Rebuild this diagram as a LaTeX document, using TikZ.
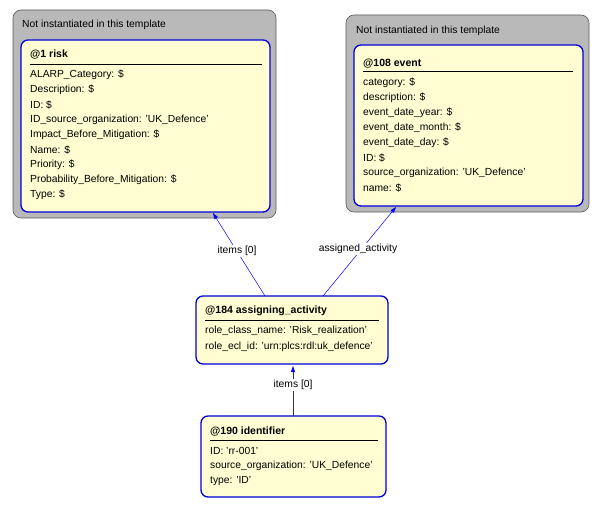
\documentclass[tikz,border=0pt]{standalone}
\usepackage{fontspec}
\setmainfont{Liberation Sans}
\usetikzlibrary{arrows.meta}
\begin{document}
\begin{tikzpicture}[x=1pt,y=-1pt,font=\fontsize{10.3}{12}\selectfont,
  grey/.style={draw=gray!70!black,fill=gray!55,rounded corners=8pt,line width=0.6pt},
  ent/.style={draw=blue!85!black,fill=yellow!18,rounded corners=7pt,line width=1.3pt},
  txt/.style={anchor=west,inner sep=0pt},
  ttl/.style={anchor=west,inner sep=0pt,font=\fontsize{10.5}{12}\selectfont\bfseries},
  con/.style={draw=blue,line width=0.5pt,-{Triangle[length=6pt,width=4pt]}},
  lab/.style={fill=white,inner sep=1pt}]
\useasboundingbox (0,0) rectangle (601,508);
% group 1
\draw[grey] (13,10) rectangle (276,218);
\node[txt] (g1) at (22,25) {Not instantiated in this template};
\draw[ent] (21,40) rectangle (270,212);
\node[coordinate] (riskb) at (213,213) {};
\node[ttl] (r0) at (30,55) {@1 risk};
\draw (30,64) -- (262,64);
\foreach \t [count=\i] in {ALARP\_Category: \$,Description: \$,ID: \$,ID\_source\_organization: 'UK\_Defence',Impact\_Before\_Mitigation: \$,Name: \$,Priority: \$,Probability\_Before\_Mitigation: \$,Type: \$}
  \node[txt] (r\i) at (30,{60+15*\i}) {\t};
% group 2
\draw[grey] (346,15) rectangle (589,212);
\node[txt] (g2) at (356,31) {Not instantiated in this template};
\draw[ent] (354,45) rectangle (583,206);
\node[coordinate] (eventb) at (396,207) {};
\node[ttl] (e0) at (363,64) {@108 event};
\draw (363,71) -- (573,71);
\foreach \t [count=\i] in {category: \$,description: \$,event\_date\_year: \$,event\_date\_month: \$,event\_date\_day: \$,ID: \$,source\_organization: 'UK\_Defence',name: \$}
  \node[txt] (e\i) at (363,{68+15*\i}) {\t};
% assigning_activity
\draw[ent] (196,296) rectangle (388,364);
\node[coordinate] (a1t) at (265,296) {};
\node[coordinate] (a2t) at (323,296) {};
\node[coordinate] (ab) at (293,366) {};
\node[ttl] (a0) at (205,311) {@184 assigning\_activity};
\draw (205,320) -- (379,320);
\node[txt] (a1) at (205,331) {role\_class\_name: 'Risk\_realization'};
\node[txt] (a2) at (205,347) {role\_ecl\_id: 'urn:plcs:rdl:uk\_defence'};
% identifier
\draw[ent] (201,416) rectangle (386,497);
\node[coordinate] (it) at (293,416) {};
\node[ttl] (i0) at (210,432) {@190 identifier};
\draw (210,440) -- (378,440);
\node[txt] (i1) at (210,451) {ID: 'rr-001'};
\node[txt] (i2) at (210,466) {source\_organization: 'UK\_Defence'};
\node[txt] (i3) at (210,481) {type: 'ID'};
% connectors
\draw[con] (a1t) -- (riskb);
\node[lab] (l1) at (237,251) {items [0]};
\draw[con] (a2t) -- (eventb);
\node[lab] (l2) at (358,249) {assigned\_activity};
\draw[con,draw=black!80,-{Triangle[length=6pt,width=4pt,blue]}] (it) -- (ab);
\node[lab] (l3) at (293,385) {items [0]};
\end{tikzpicture}
\end{document}
